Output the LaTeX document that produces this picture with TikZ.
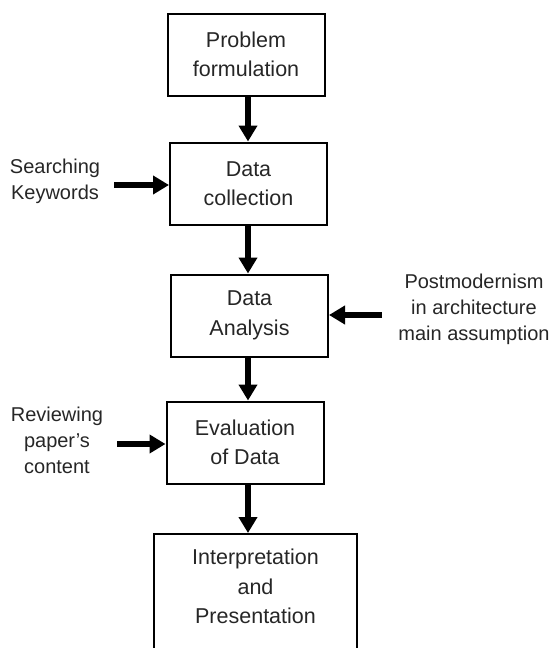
\documentclass[tikz,border=0pt]{standalone}
\usepackage{fontspec}
\setmainfont{Liberation Sans}
\usetikzlibrary{arrows.meta, positioning}

\begin{document}
\begin{tikzpicture}[
    x=1pt, y=-1pt,
    stepbox/.style={rectangle, draw, line width=2pt, minimum width=157pt, minimum height=82pt,
        align=center, text=black!85, font=\fontsize{21.5}{29.5}\selectfont},
    sidetext/.style={align=center, inner sep=0pt, text=black!85, font=\fontsize{20}{26}\selectfont},
    arrow/.style={-{Triangle[width=18pt, length=16pt]}, line width=5.5pt}
]
\useasboundingbox (0,0) rectangle (550,648);

% Main steps
\node[stepbox] (formulation) at (246,54.5) {Problem\\formulation};
\node[stepbox] (collection) at (248.5,183.5) {Data\\collection};
\node[stepbox] (analysis) at (249.5,315.5) {Data\\Analysis};
\node[stepbox] (evaluation) at (245,442.5) {Evaluation\\of Data};
\node[rectangle, draw, line width=2pt, minimum width=203pt, minimum height=140pt, anchor=north]
    (interpretation) at (255.5,533) {};
\node[sidetext, font=\fontsize{21.5}{29.5}\selectfont, below=16pt of interpretation.north]
    (interpretationtext) {Interpretation\\and\\Presentation};

% Inputs
\node[sidetext] (keywords) at (55,181) {Searching\\Keywords};
\node[sidetext] (postmodern) at (474,309) {Postmodernism\\in architecture\\main assumption};
\node[sidetext] (reviewing) at (57,440) {Reviewing\\paper's\\content};

\draw[arrow] (formulation.south -| 248,0) -- (collection.north -| 248,0);
\draw[arrow] (collection.south -| 248,0) -- (analysis.north -| 248,0);
\draw[arrow] (analysis.south -| 248,0) -- (evaluation.north -| 248,0);
\draw[arrow] (evaluation.south -| 248,0) -- (interpretation.north -| 248,0);

\draw[arrow, shorten <=14pt] (keywords.east |- 0,185) -- (collection.west |- 0,185);
\draw[arrow, shorten <=16pt] (postmodern.west |- 0,315) -- (analysis.east |- 0,315);
\draw[arrow, shorten <=14pt] (reviewing.east |- 0,444) -- (evaluation.west |- 0,444);
\end{tikzpicture}
\end{document}
